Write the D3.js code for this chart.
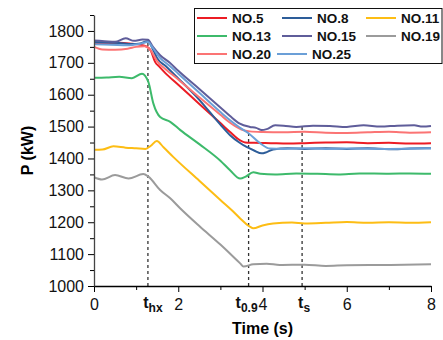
<!DOCTYPE html>
<html>
<head>
<meta charset="utf-8">
<script src="https://cdn.jsdelivr.net/npm/d3@7"></script>
<style>
	body { margin: 0; background: #fff; }
	svg { display: block; font-family: "Liberation Sans", Arial, sans-serif; }
</style>
</head>
<body>
<script>
// values: [time (s), P (kW)]
const no5 = [[0,1760],[0.3,1761],[0.6,1763],[0.9,1760],[1.1,1757],[1.25,1751],[1.35,1738],[1.45,1703],[1.55,1688],[1.7,1667],[2.0,1631],[2.5,1571],[3.0,1511],[3.23,1483],[3.4,1463],[3.59,1450],[3.8,1449],[4.2,1448],[4.6,1447],[5,1448],[5.5,1450],[6,1451],[6.5,1448],[7,1449],[7.5,1447],[8,1448]];
const no8 = [[0,1765],[0.3,1764],[0.6,1762],[0.9,1759],[1.1,1761],[1.28,1768],[1.4,1742],[1.5,1714],[1.7,1690],[2.0,1651],[2.5,1584],[3.0,1506],[3.23,1473],[3.45,1450],[3.62,1436],[3.8,1425],[3.98,1416],[4.1,1420],[4.25,1428],[4.6,1432],[5,1430],[5.5,1432],[6,1430],[6.5,1432],[7,1429],[7.5,1431],[8,1432]];
const no11 = [[0,1427],[0.2,1428],[0.46,1438],[0.75,1434],[1.0,1432],[1.22,1430],[1.35,1440],[1.49,1455],[1.65,1435],[1.88,1405],[2.5,1330],[3.0,1270],[3.31,1233],[3.47,1212],[3.7,1186],[3.78,1181],[4.0,1190],[4.25,1196],[4.7,1199],[5.0,1196],[5.5,1198],[6,1201],[6.5,1198],[7,1200],[7.5,1198],[8,1200]];
const no13 = [[0,1653],[0.3,1654],[0.6,1656],[0.9,1652],[1.14,1666],[1.29,1640],[1.41,1572],[1.57,1530],[1.81,1515],[2.05,1489],[2.5,1445],[3.0,1393],[3.23,1363],[3.47,1337],[3.6,1343],[3.78,1357],[3.95,1352],[4.3,1350],[4.8,1353],[5.3,1352],[5.8,1350],[6.3,1353],[7,1352],[7.5,1353],[8,1352]];
const no15 = [[0,1770],[0.25,1768],[0.5,1766],[0.75,1777],[0.95,1769],[1.15,1773],[1.28,1772],[1.4,1750],[1.57,1724],[1.8,1700],[2.0,1675],[2.5,1618],[3.0,1560],[3.23,1533],[3.45,1510],[3.7,1499],[3.85,1496],[3.98,1489],[4.1,1492],[4.3,1504],[4.5,1503],[4.8,1499],[5.2,1503],[5.6,1502],[6.0,1499],[6.4,1504],[6.8,1500],[7.2,1503],[7.6,1504],[7.8,1500],[8,1502]];
const no19 = [[0,1341],[0.19,1334],[0.5,1348],[0.82,1337],[1.17,1351],[1.29,1343],[1.57,1301],[1.81,1275],[2.05,1243],[2.5,1188],[3.0,1130],[3.47,1071],[3.55,1061],[3.78,1068],[4.1,1070],[4.41,1066],[5,1067],[5.5,1063],[6,1065],[7,1066],[8,1068]];
const no20 = [[0,1750],[0.2,1742],[0.5,1741],[0.8,1744],[1.0,1750],[1.2,1752],[1.35,1738],[1.5,1705],[1.7,1680],[2.0,1648],[2.5,1592],[3.0,1537],[3.23,1512],[3.5,1491],[3.7,1485],[4.0,1483],[4.5,1482],[5,1484],[5.5,1481],[6,1480],[6.5,1482],[7,1484],[7.5,1481],[8,1482]];
const no25 = [[0,1758],[0.4,1757],[0.8,1755],[1.1,1760],[1.28,1765],[1.4,1746],[1.55,1718],[1.8,1690],[2.0,1666],[2.5,1606],[3.0,1546],[3.23,1520],[3.45,1498],[3.66,1480],[3.94,1448],[4.18,1431],[4.5,1430],[5,1432],[5.5,1430],[6,1431],[7,1430],[8,1432]];

const seriesNames = ["NO.5", "NO.8", "NO.11", "NO.13", "NO.15", "NO.19", "NO.20", "NO.25"];
const seriesValues = [no5, no8, no11, no13, no15, no19, no20, no25];
const seriesColours = ["#ec1c24", "#2d5d99", "#fdbd14", "#3dba6b", "#5f5d9a", "#9b9b9b", "#fb7474", "#6b9fd7"];

const xTicks = [0, 1, 2, 3, 4, 5, 6, 7, 8];
const xLabels = [0, 2, 4, 6, 8];
const yTicks = [1000, 1050, 1100, 1150, 1200, 1250, 1300, 1350, 1400, 1450, 1500, 1550, 1600, 1650, 1700, 1750, 1800, 1850];
const yLabels = [1000, 1100, 1200, 1300, 1400, 1500, 1600, 1700, 1800];

// vertical markers: name, time, value where the dashed line stops
const markerNames = ["hx", "0.9", "s"];
const markerTimes = [1.28, 3.67, 4.94];
const markerTops = [1772, 1484, 1503];

const width = 443, height = 340;
const margin = ({ top: 15, right: 12, bottom: 54, left: 94 });

const x = d3.scaleLinear()
	.domain([0, 8])
	.range([margin.left, width - margin.right]);

const y = d3.scaleLinear()
	.domain([1000, 1850])
	.range([height - margin.bottom, margin.top]);

const svg = d3.select("body").append("svg")
	.attr("width", width)
	.attr("height", height);

// dashed markers
svg.append("g")
	.selectAll("line")
	.data(markerTimes)
	.join("line")
	.attr("stroke", "#333")
	.attr("stroke-width", 1.3)
	.attr("stroke-dasharray", "3,3")
	.attr("x1", d => x(d))
	.attr("x2", d => x(d))
	.attr("y1", y(1000))
	.attr("y2", (d, i) => y(markerTops[i]));

const line = d3.line()
	.x(d => x(d[0]))
	.y(d => y(d[1]))
	.curve(d3.curveMonotoneX);

svg.append("g")
	.attr("fill", "none")
	.attr("stroke-width", 2)
	.attr("stroke-linejoin", "round")
	.selectAll("path")
	.data(seriesValues)
	.join("path")
	.attr("stroke", (d, i) => seriesColours[i])
	.attr("d", line);

// axes
const xAxis = g => g
	.attr("transform", `translate(0,${y(1000)})`)
	.call(d3.axisBottom(x)
		.tickValues(xTicks)
		.tickSizeOuter(0)
		.tickPadding(7)
		.tickFormat(d => xLabels.includes(d) ? d : ""))
	.call(g => g.selectAll(".tick line")
		.attr("y2", d => xLabels.includes(d) ? 6 : 4))
	.call(g => g.select(".domain").attr("stroke-width", 1.3))
	.call(g => g.selectAll("text").attr("font-size", 16).attr("font-family", null).attr("fill", "#111"));

const yAxis = g => g
	.attr("transform", `translate(${x(0)},0)`)
	.call(d3.axisLeft(y)
		.tickValues(yTicks)
		.tickSizeOuter(0)
		.tickPadding(4)
		.tickFormat(d => yLabels.includes(d) ? d : ""))
	.call(g => g.selectAll(".tick line")
		.attr("x2", d => yLabels.includes(d) ? -6 : -4))
	.call(g => g.select(".domain").attr("stroke-width", 1.3).attr("stroke", "#444"))
	.call(g => g.selectAll("text").attr("font-size", 16).attr("font-family", null).attr("fill", "#111"));

svg.append("g").call(xAxis);
svg.append("g").call(yAxis);

// marker labels under the x axis
const ml = svg.append("g")
	.selectAll("text")
	.data(markerTimes)
	.join("text")
	.attr("x", (d, i) => x(d) + [5, -2, 2][i])
	.attr("y", y(1000) + 22)
	.attr("text-anchor", "middle")
	.attr("font-weight", "bold")
	.attr("font-size", 16)
	.attr("fill", "#111");

ml.append("tspan").text("t");
ml.append("tspan")
	.attr("font-size", 12)
	.attr("dy", 4)
	.text((d, i) => markerNames[i]);

// axis titles
svg.append("text")
	.attr("transform", "rotate(-90)")
	.attr("x", -(y(1000) + y(1850)) / 2)
	.attr("y", 33)
	.attr("text-anchor", "middle")
	.attr("font-weight", "bold")
	.attr("font-size", 16)
	.text("P (kW)");

svg.append("text")
	.attr("x", (x(0) + x(8)) / 2)
	.attr("y", 334)
	.attr("text-anchor", "middle")
	.attr("font-weight", "bold")
	.attr("font-size", 16)
	.text("Time (s)");

// legend
svg.append("rect")
	.attr("x", 194.5)
	.attr("y", 8.5)
	.attr("width", 247.5)
	.attr("height", 55)
	.attr("fill", "#fff")
	.attr("stroke", "#111")
	.attr("stroke-width", 1);

const lg = svg.append("g")
	.selectAll("g")
	.data(seriesNames)
	.join("g")
	.attr("transform", (d, i) => `translate(${[197, 282, 366][i % 3] - (i === 7 ? 5 : 0)},${18 + 18 * Math.floor(i / 3)})`);

lg.append("line")
	.attr("stroke", (d, i) => seriesColours[i])
	.attr("stroke-width", 2)
	.attr("x1", 0)
	.attr("x2", 30);

lg.append("text")
	.attr("x", 35)
	.attr("dy", "0.36em")
	.attr("font-weight", "bold")
	.attr("font-size", 13.5)
	.attr("fill", "#111")
	.text(d => d);
</script>
</body>
</html>
